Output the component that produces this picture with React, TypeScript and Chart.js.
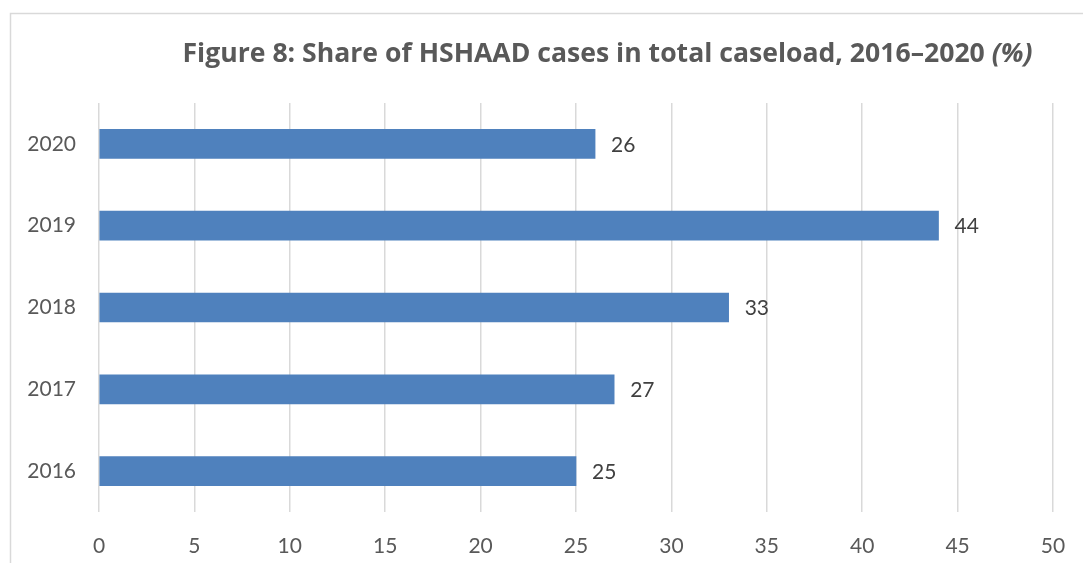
import React, { useEffect, useRef } from "react";
import { Chart, registerables } from "chart.js";

Chart.register(...registerables);

const categories = ["2020", "2019", "2018", "2017", "2016"];
const values = [26, 44, 33, 27, 25];
const xTicks = [0, 5, 10, 15, 20, 25, 30, 35, 40, 45, 50];
const titleMain = "Figure 8: Share of HSHAAD cases in total caseload, 2016–2020 ";
const titleItalic = "(%)";

const W = 1083;
const H = 563;

export default function App() {
  const ref = useRef<HTMLCanvasElement | null>(null);

  useEffect(() => {
    const canvas = ref.current;
    if (!canvas) return;

    const framePlugin = {
      id: "frame",
      beforeDraw(chart: any) {
        const ctx = chart.ctx;
        ctx.save();
        ctx.fillStyle = "#ffffff";
        ctx.fillRect(0, 0, W, H);
        ctx.strokeStyle = "#d9d9d9";
        ctx.lineWidth = 1.5;
        ctx.beginPath();
        ctx.moveTo(10.5, H + 2);
        ctx.lineTo(10.5, 13.5);
        ctx.lineTo(W + 2, 13.5);
        ctx.stroke();
        ctx.restore();
      },
      afterDraw(chart: any) {
        const ctx = chart.ctx;
        ctx.save();
        // title
        const fontMain = "bold 26.6px 'Open Sans'";
        const fontIt = "italic bold 26.6px 'Open Sans'";
        ctx.font = fontMain;
        const w1 = ctx.measureText(titleMain).width;
        ctx.font = fontIt;
        const w2 = ctx.measureText(titleItalic).width;
        const cx = 607.5;
        const x0 = cx - (w1 + w2) / 2;
        ctx.fillStyle = "#595959";
        ctx.textBaseline = "alphabetic";
        ctx.textAlign = "left";
        ctx.font = fontMain;
        ctx.fillText(titleMain, x0, 62);
        ctx.font = fontIt;
        ctx.fillText(titleItalic, x0 + w1, 62);

        // data labels
        const meta = chart.getDatasetMeta(0);
        ctx.font = "21px Lato";
        ctx.fillStyle = "#404040";
        ctx.textBaseline = "middle";
        meta.data.forEach((bar: any, i: number) => {
          ctx.fillText(String(values[i]), bar.x + 16, bar.y + 1);
        });
        ctx.restore();
      },
    };

    const chart = new Chart(canvas, {
      type: "bar",
      data: {
        labels: categories,
        datasets: [
          {
            data: values,
            backgroundColor: "#4f81bd",
            borderWidth: 0,
            barThickness: 29,
          },
        ],
      },
      options: {
        indexAxis: "y",
        responsive: false,
        animation: false,
        devicePixelRatio: 1,
        layout: { padding: { top: 103, right: 30, left: 0, bottom: 0 } },
        plugins: {
          legend: { display: false },
          title: { display: false },
          tooltip: { enabled: false },
        },
        scales: {
          x: {
            min: 0,
            max: 50,
            afterBuildTicks(scale: any) {
              scale.ticks = xTicks.map((v) => ({ value: v }));
            },
            afterFit(scale: any) {
              scale.height = H - 512;
              scale.paddingLeft = 0;
              scale.paddingRight = 0;
            },
            grid: { color: "#d9d9d9", lineWidth: 1.5, drawTicks: false },
            border: { display: false },
            ticks: {
              padding: 22,
              color: "#595959",
              font: { family: "Lato", size: 21 },
            },
          },
          y: {
            afterFit(scale: any) {
              scale.width = 99;
              scale.paddingTop = 0;
              scale.paddingBottom = 0;
            },
            grid: { display: false, drawTicks: false },
            border: { display: false },
            ticks: {
              padding: 23,
              color: "#595959",
              font: { family: "Lato", size: 21 },
            },
          },
        },
      },
      plugins: [framePlugin],
    });

    return () => chart.destroy();
  }, []);

  return (
    <div style={{ position: "fixed", left: 0, top: 0, width: W, height: H }}>
      <canvas ref={ref} width={W} height={H} style={{ width: W, height: H, display: "block" }} />
    </div>
  );
}
